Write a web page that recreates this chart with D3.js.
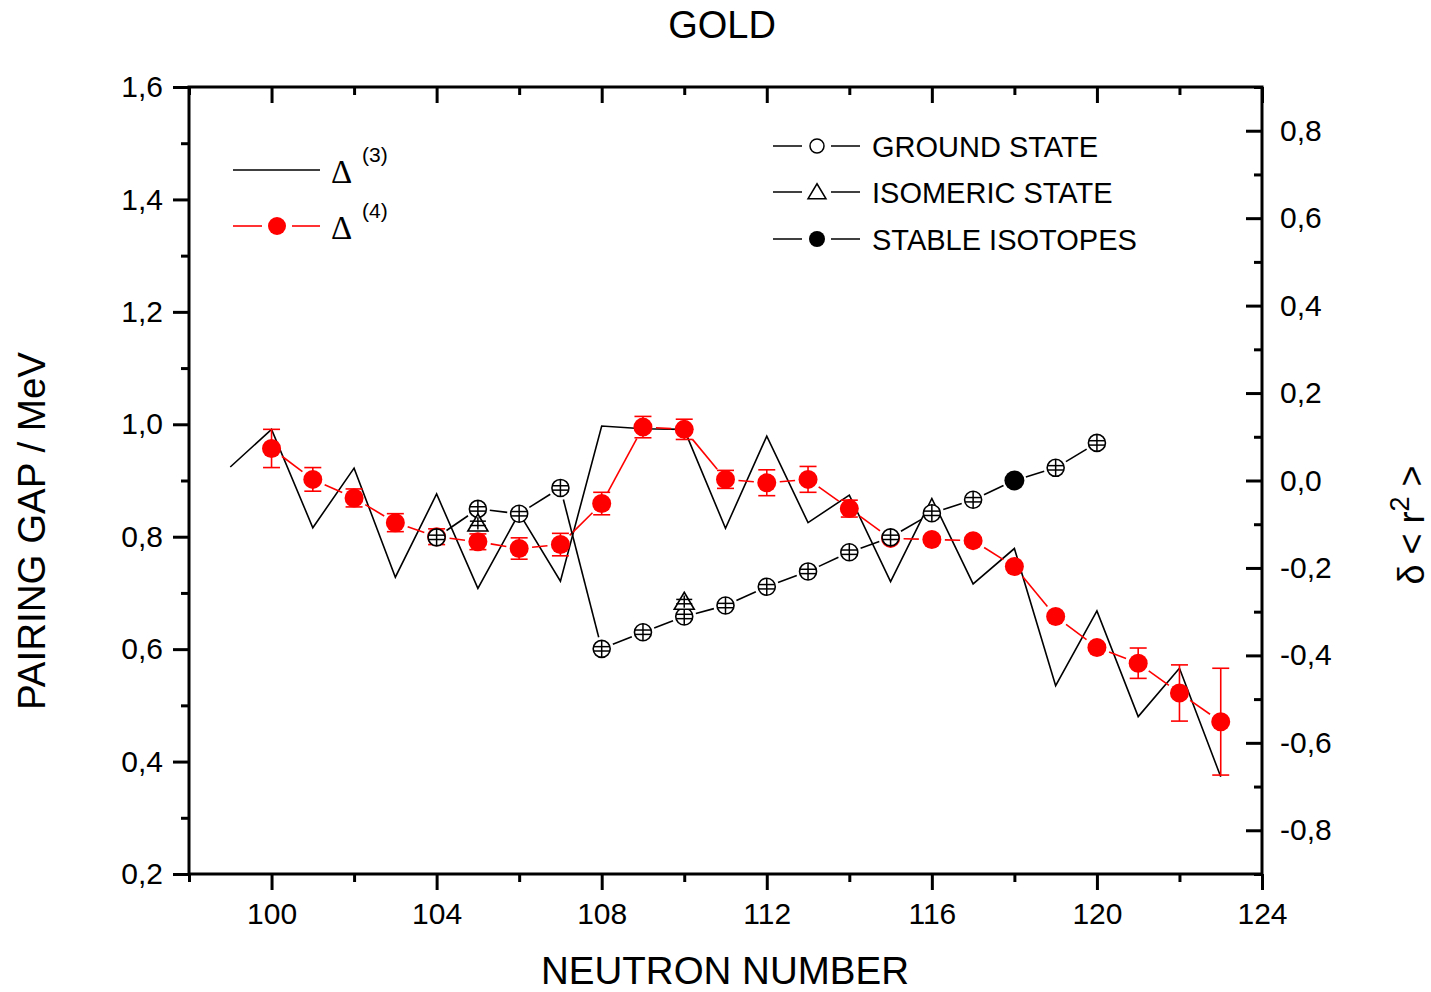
<!DOCTYPE html>
<html>
<head>
<meta charset="utf-8">
<script src="https://cdn.jsdelivr.net/npm/d3@7/dist/d3.min.js"></script>
<style>
  html, body { margin: 0; padding: 0; background: #fff; }
  svg { display: block; }
  text { font-family: "Liberation Sans", Arial, sans-serif; fill: #000; }
</style>
</head>
<body>
<svg id="chart" width="1431" height="992"></svg>
<script>
// Three-point pairing gap Δ(3), MeV
const nDelta3 = [99, 100, 101, 102, 103, 104, 105, 106, 107, 108, 109, 110, 111, 112, 113, 114, 115, 116, 117, 118, 119, 120, 121, 122, 123];
const delta3 = [0.924, 0.991, 0.816, 0.922, 0.728, 0.876, 0.708, 0.842, 0.721, 0.997, 0.992, 0.991, 0.815, 0.979, 0.825, 0.874, 0.720, 0.868, 0.716, 0.779, 0.535, 0.668, 0.480, 0.566, 0.373];

// Four-point pairing gap Δ(4), MeV, with uncertainties
const nDelta4 = [100, 101, 102, 103, 104, 105, 106, 107, 108, 109, 110, 111, 112, 113, 114, 115, 116, 117, 118, 119, 120, 121, 122, 123];
const delta4 = [0.957, 0.902, 0.869, 0.825, 0.800, 0.791, 0.779, 0.786, 0.859, 0.995, 0.991, 0.902, 0.896, 0.902, 0.850, 0.797, 0.795, 0.793, 0.747, 0.658, 0.603, 0.575, 0.522, 0.471];
const delta4Err = [0.034, 0.021, 0.016, 0.016, 0.014, 0.014, 0.019, 0.020, 0.020, 0.019, 0.018, 0.016, 0.023, 0.023, 0.015, 0.005, 0.005, 0.005, 0.005, 0.005, 0.005, 0.027, 0.050, 0.095];

// Changes in mean-square charge radius δ<r²>, fm²
const nGround = [104, 105, 106, 107, 108, 109, 110, 111, 112, 113, 114, 115, 116, 117, 119, 120];
const ground = [-0.130, -0.065, -0.076, -0.017, -0.385, -0.347, -0.311, -0.286, -0.243, -0.208, -0.164, -0.130, -0.075, -0.044, 0.029, 0.086];
const groundErr = [0.005, 0.005, 0.005, 0.005, 0.005, 0.005, 0.005, 0.005, 0.005, 0.005, 0.005, 0.005, 0.005, 0.005, 0.005, 0.005];

const nIsomer = [105, 110];
const isomer = [-0.098, -0.277];
const isomerErr = [0.005, 0.005];

const nStable = [118];
const stable = [0.000];

// Axis ticks
const xMajor = [100, 104, 108, 112, 116, 120, 124];
const xMinor = [98, 102, 106, 110, 114, 118, 122];
const yLeftMajor = [0.2, 0.4, 0.6, 0.8, 1.0, 1.2, 1.4, 1.6];
const yLeftMinor = [0.3, 0.5, 0.7, 0.9, 1.1, 1.3, 1.5];
const yRightMajor = [-0.8, -0.6, -0.4, -0.2, 0.0, 0.2, 0.4, 0.6, 0.8];
const yRightMinor = [-0.9, -0.7, -0.5, -0.3, -0.1, 0.1, 0.3, 0.5, 0.7, 0.9];

const svg = d3.select("#chart");
const L = 189, R = 1262, T = 87, B = 874;

const x = d3.scaleLinear().domain([98, 124]).range([L, R]);
const yL = d3.scaleLinear().domain([0.2, 1.6]).range([B, T]);
const yR = d3.scaleLinear().domain([-0.9, 0.9]).range([B, T]);

const fmt = d => {
  if (Math.abs(d) < 1e-9) return "0,0";
  return (d < 0 ? "-" : "") + Math.abs(d).toFixed(1).replace(".", ",");
};

const MAJ = 16, MIN = 8;
const FS = 30;

function styleAxis(g) {
  g.select(".domain").remove();
  g.selectAll(".tick line").attr("stroke", "#000").attr("stroke-width", 3);
  g.selectAll(".tick text").style("font-size", FS + "px").attr("fill", "#000")
    .style("font-family", "'Liberation Sans', Arial, sans-serif");
}

// bottom axis
svg.append("g").attr("transform", `translate(0,${B})`)
  .call(d3.axisBottom(x).tickValues(xMajor).tickSize(MAJ).tickPadding(13).tickFormat(d3.format("d")))
  .call(styleAxis);
svg.append("g").attr("transform", `translate(0,${B})`)
  .call(d3.axisBottom(x).tickValues(xMinor).tickSize(MIN).tickFormat(""))
  .call(styleAxis);
// top axis, ticks inward
svg.append("g").attr("transform", `translate(0,${T})`)
  .call(d3.axisTop(x).tickValues(xMajor).tickSize(-MAJ).tickFormat(""))
  .call(styleAxis);
svg.append("g").attr("transform", `translate(0,${T})`)
  .call(d3.axisTop(x).tickValues(xMinor).tickSize(-MIN).tickFormat(""))
  .call(styleAxis);
// left axis
svg.append("g").attr("transform", `translate(${L},0)`)
  .call(d3.axisLeft(yL).tickValues(yLeftMajor).tickSize(MAJ).tickPadding(10).tickFormat(fmt))
  .call(styleAxis);
svg.append("g").attr("transform", `translate(${L},0)`)
  .call(d3.axisLeft(yL).tickValues(yLeftMinor).tickSize(MIN).tickFormat(""))
  .call(styleAxis);
// right axis, ticks inward
svg.append("g").attr("transform", `translate(${R},0)`)
  .call(d3.axisRight(yR).tickValues(yRightMajor).tickSize(-MAJ).tickPadding(18).tickFormat(fmt))
  .call(styleAxis);
svg.append("g").attr("transform", `translate(${R},0)`)
  .call(d3.axisRight(yR).tickValues(yRightMinor).tickSize(-MIN).tickFormat(""))
  .call(styleAxis);

// frame
svg.append("rect").attr("x", L).attr("y", T).attr("width", R - L).attr("height", B - T)
  .attr("fill", "none").attr("stroke", "#000").attr("stroke-width", 3);

// titles
svg.append("text").attr("x", 722).attr("y", 38).attr("text-anchor", "middle")
  .style("font-size", "38px").text("GOLD");
svg.append("text").attr("x", 725).attr("y", 984).attr("text-anchor", "middle")
  .style("font-size", "38.5px").text("NEUTRON NUMBER");
svg.append("text").attr("transform", "translate(45,531) rotate(-90)").attr("text-anchor", "middle")
  .style("font-size", "38.5px").text("PAIRING GAP / MeV");
const rl = svg.append("text").attr("transform", "translate(1424,525) rotate(-90)").attr("text-anchor", "middle")
  .style("font-size", "36px");
rl.append("tspan").text("δ < r");
rl.append("tspan").attr("dy", -15).style("font-size", "27px").text("2");
rl.append("tspan").attr("dy", 15).text(" >");

const plot = svg.append("g");

// line pieces between markers, trimmed so they stop short of each marker
function trimmedSegments(pts, gap) {
  const segs = [];
  for (let i = 0; i < pts.length - 1; i++) {
    const [x1, y1] = pts[i], [x2, y2] = pts[i + 1];
    const dx = x2 - x1, dy = y2 - y1, len = Math.hypot(dx, dy);
    if (len <= 2 * gap) continue;
    const ux = dx / len, uy = dy / len;
    segs.push([x1 + ux * gap, y1 + uy * gap, x2 - ux * gap, y2 - uy * gap]);
  }
  return segs;
}

// Δ(3): plain black line
plot.append("path")
  .datum(nDelta3.map((n, i) => [n, delta3[i]]))
  .attr("fill", "none").attr("stroke", "#000").attr("stroke-width", 1.6)
  .attr("d", d3.line().x(d => x(d[0])).y(d => yL(d[1])));

// Δ(4): red line with error bars and dots
const RED = "#ff0000";
const d4pts = nDelta4.map((n, i) => [x(n), yL(delta4[i])]);
plot.append("g").selectAll("line").data(trimmedSegments(d4pts, 13)).join("line")
  .attr("x1", d => d[0]).attr("y1", d => d[1]).attr("x2", d => d[2]).attr("y2", d => d[3])
  .attr("stroke", RED).attr("stroke-width", 1.6);
const eb = plot.append("g").attr("stroke", RED).attr("stroke-width", 1.6);
nDelta4.forEach((n, i) => {
  const cx = x(n), y1 = yL(delta4[i] + delta4Err[i]), y2 = yL(delta4[i] - delta4Err[i]);
  eb.append("line").attr("x1", cx).attr("x2", cx).attr("y1", y1).attr("y2", y2);
  eb.append("line").attr("x1", cx - 8.5).attr("x2", cx + 8.5).attr("y1", y1).attr("y2", y1);
  eb.append("line").attr("x1", cx - 8.5).attr("x2", cx + 8.5).attr("y1", y2).attr("y2", y2);
});
plot.append("g").selectAll("circle").data(nDelta4).join("circle")
  .attr("cx", d => x(d)).attr("cy", (d, i) => yL(delta4[i])).attr("r", 9.5)
  .attr("fill", RED);

// δ<r²>: connected line through ground states and the stable isotope
const radii = nGround.map((n, i) => ({ n, v: ground[i] }))
  .concat(nStable.map((n, i) => ({ n, v: stable[i] })))
  .sort((a, b) => a.n - b.n);
const rpts = radii.map(d => [x(d.n), yR(d.v)]);
plot.append("g").selectAll("line").data(trimmedSegments(rpts, 12)).join("line")
  .attr("x1", d => d[0]).attr("y1", d => d[1]).attr("x2", d => d[2]).attr("y2", d => d[3])
  .attr("stroke", "#000").attr("stroke-width", 1.6);

// ground-state markers: open circles with their small error bars
const gs = plot.append("g");
nGround.forEach((n, i) => {
  const cx = x(n), cy = yR(ground[i]);
  const y1 = yR(ground[i] + groundErr[i]), y2 = yR(ground[i] - groundErr[i]);
  gs.append("circle").attr("cx", cx).attr("cy", cy).attr("r", 8.5)
    .attr("fill", "#fff").attr("stroke", "#000").attr("stroke-width", 1.6);
  gs.append("line").attr("x1", cx).attr("x2", cx).attr("y1", cy - 8.5).attr("y2", cy + 8.5)
    .attr("stroke", "#000").attr("stroke-width", 1.5);
  [y1, y2].forEach(yy => gs.append("line").attr("x1", cx - 8).attr("x2", cx + 8)
    .attr("y1", yy).attr("y2", yy).attr("stroke", "#000").attr("stroke-width", 1.5));
});

// isomeric-state markers: open triangles
const tri = (cx, cy, w, h) => `M${cx},${cy - h * 0.55}L${cx + w / 2},${cy + h * 0.45}L${cx - w / 2},${cy + h * 0.45}Z`;
const is = plot.append("g");
nIsomer.forEach((n, i) => {
  const cx = x(n), cy = yR(isomer[i]);
  is.append("path").attr("d", tri(cx, cy, 20, 17))
    .attr("fill", "#fff").attr("stroke", "#000").attr("stroke-width", 1.6);
  const y1 = yR(isomer[i] + isomerErr[i]), y2 = yR(isomer[i] - isomerErr[i]);
  is.append("line").attr("x1", cx).attr("x2", cx).attr("y1", y1 - 4).attr("y2", y2 + 4)
    .attr("stroke", "#000").attr("stroke-width", 1.5);
  [y1, y2].forEach(yy => is.append("line").attr("x1", cx - 8).attr("x2", cx + 8)
    .attr("y1", yy).attr("y2", yy).attr("stroke", "#000").attr("stroke-width", 1.5));
});

// stable isotope: filled circle
plot.append("g").selectAll("circle").data(nStable).join("circle")
  .attr("cx", d => x(d)).attr("cy", (d, i) => yR(stable[i])).attr("r", 10)
  .attr("fill", "#000");

// legend: pairing gaps
const lg1 = svg.append("g");
lg1.append("line").attr("x1", 233).attr("x2", 320).attr("y1", 170).attr("y2", 170)
  .attr("stroke", "#000").attr("stroke-width", 1.6);
lg1.append("line").attr("x1", 233).attr("x2", 262).attr("y1", 226).attr("y2", 226)
  .attr("stroke", RED).attr("stroke-width", 1.6);
lg1.append("line").attr("x1", 292).attr("x2", 320).attr("y1", 226).attr("y2", 226)
  .attr("stroke", RED).attr("stroke-width", 1.6);
lg1.append("circle").attr("cx", 277).attr("cy", 226).attr("r", 9).attr("fill", RED);
[["(3)", 183, 162], ["(4)", 239, 218]].forEach(([sup, by, sy]) => {
  lg1.append("text").attr("x", 331).attr("y", by)
    .style("font-family", "'Liberation Serif', 'Times New Roman', serif").style("font-size", "33px").text("Δ");
  lg1.append("text").attr("x", 362).attr("y", sy).style("font-size", "21px").text(sup);
});

// legend: radius data
const lg2 = svg.append("g");
const rows = [
  { y: 146, label: "GROUND STATE", sym: "circle" },
  { y: 192, label: "ISOMERIC STATE", sym: "triangle" },
  { y: 239, label: "STABLE ISOTOPES", sym: "filled" }
];
rows.forEach(r => {
  lg2.append("line").attr("x1", 773).attr("x2", 802).attr("y1", r.y).attr("y2", r.y)
    .attr("stroke", "#000").attr("stroke-width", 1.5);
  lg2.append("line").attr("x1", 831).attr("x2", 860).attr("y1", r.y).attr("y2", r.y)
    .attr("stroke", "#000").attr("stroke-width", 1.5);
  if (r.sym === "circle") {
    lg2.append("circle").attr("cx", 817).attr("cy", r.y).attr("r", 7)
      .attr("fill", "#fff").attr("stroke", "#000").attr("stroke-width", 1.5);
  } else if (r.sym === "triangle") {
    lg2.append("path").attr("d", tri(817, r.y, 18, 15))
      .attr("fill", "#fff").attr("stroke", "#000").attr("stroke-width", 1.5);
  } else {
    lg2.append("circle").attr("cx", 817).attr("cy", r.y).attr("r", 8).attr("fill", "#000");
  }
  lg2.append("text").attr("x", 872).attr("y", r.y + 11).style("font-size", "29px").text(r.label);
});
</script>
</body>
</html>
